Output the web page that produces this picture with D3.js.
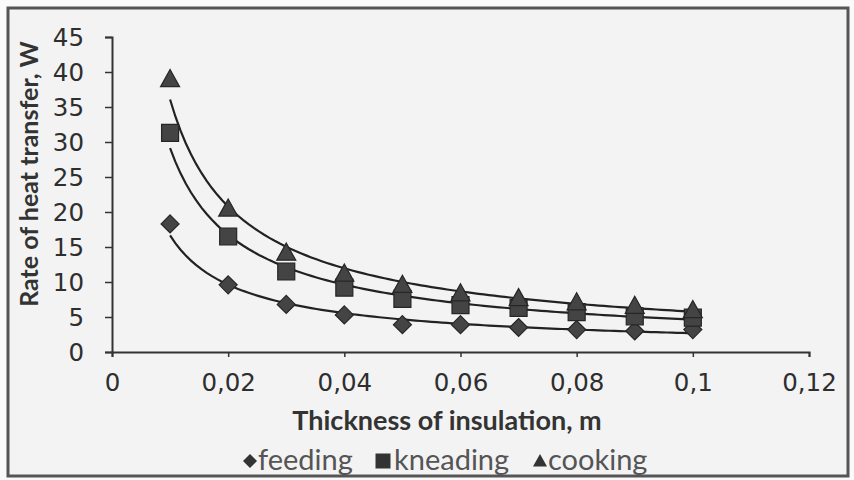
<!DOCTYPE html>
<html><head><meta charset="utf-8">
<script src="https://cdn.jsdelivr.net/npm/d3@7"></script>
<style>html,body{margin:0;padding:0;background:#fbfbfb;}svg{display:block;}</style>
</head><body>
<svg id="c" width="854" height="480"></svg>
<script>
const thickness = [0.01,0.02,0.03,0.04,0.05,0.06,0.07,0.08,0.09,0.1];
const feeding  = [18.3, 9.6, 6.8, 5.3, 3.9, 3.9, 3.5, 3.2, 3.0, 3.2];
const kneading = [31.3, 16.5, 11.5, 9.2, 7.6, 6.7, 6.3, 5.7, 5.1, 4.9];
const cooking  = [39.0, 20.5, 14.2, 11.2, 9.6, 8.4, 7.7, 7.1, 6.6, 6.0];
const seriesNames = ["feeding","kneading","cooking"];
const xTicks = [0,0.02,0.04,0.06,0.08,0.1,0.12];
const xTickLabels = ["0","0,02","0,04","0,06","0,08","0,1","0,12"];
const yTicks = [0,5,10,15,20,25,30,35,40,45];
const xTitle = "Thickness of insulation, m";
const yTitle = "Rate of heat transfer, W";

const svg = d3.select("#c");
// frame
svg.append("rect").attr("x",0).attr("y",0).attr("width",854).attr("height",480).attr("fill","#fafafa");
svg.append("rect").attr("x",8).attr("y",8).attr("width",840).attr("height",468)
  .attr("fill","#f3f3f3").attr("stroke","#555").attr("stroke-width",3);

const x = d3.scaleLinear().domain([0,0.12]).range([112,809]);
const y = d3.scaleLinear().domain([0,45]).range([352,37]);

const axisColor = "#333";
const gx = svg.append("g").attr("transform","translate(0,352)")
  .call(d3.axisBottom(x).tickValues(xTicks).tickFormat((d,i)=>xTickLabels[i]).tickSize(5).tickPadding(17));
const gy = svg.append("g").attr("transform","translate(112,0)")
  .call(d3.axisLeft(y).tickValues(yTicks).tickSize(7).tickPadding(21));
[gx,gy].forEach(g=>{
  g.select(".domain").attr("stroke",axisColor).attr("stroke-width",2);
  g.selectAll(".tick line").attr("stroke",axisColor).attr("stroke-width",1.5);
  g.selectAll(".tick text").attr("fill","#2e2e2e").attr("font-family","DejaVu Sans, sans-serif").attr("font-size",24.5);
});
gy.selectAll(".tick text").attr("dy","0.36em");

// titles
svg.append("text").attr("x",447).attr("y",430).attr("text-anchor","middle")
  .attr("font-family","Lato, sans-serif").attr("font-weight","bold").attr("font-size",27).attr("fill","#333").text(xTitle);
svg.append("text").attr("transform","translate(38,174) rotate(-90)").attr("text-anchor","middle")
  .attr("font-family","Lato, sans-serif").attr("font-weight","bold").attr("font-size",25).attr("fill","#333").text(yTitle);

// custom symbols
const symDiamond = {draw(ctx,size){const r=Math.sqrt(size)/2; ctx.moveTo(0,-r);ctx.lineTo(r,0);ctx.lineTo(0,r);ctx.lineTo(-r,0);ctx.closePath();}};
const symSquare = {draw(ctx,size){const r=Math.sqrt(size)/2; ctx.rect(-r,-r,2*r,2*r);}};
const symTri = {draw(ctx,size){const r=Math.sqrt(size)/2; ctx.moveTo(0,-r);ctx.lineTo(r,r*0.8);ctx.lineTo(-r,r*0.8);ctx.closePath();}};
const series = [
  {name:seriesNames[0], vals:feeding, sym:symDiamond, size:18*18},
  {name:seriesNames[1], vals:kneading, sym:symSquare, size:17*17},
  {name:seriesNames[2], vals:cooking, sym:symTri, size:19*19}
];

// power trendline fit y = a x^b
function powerFit(xs, ys){
  const lx = xs.map(Math.log), ly = ys.map(Math.log);
  const mx = d3.mean(lx), my = d3.mean(ly);
  const b = d3.sum(lx.map((v,i)=>(v-mx)*(ly[i]-my))) / d3.sum(lx.map(v=>(v-mx)*(v-mx)));
  const a = Math.exp(my - b*mx);
  return t => a*Math.pow(t,b);
}
const line = d3.line().x(d=>x(d[0])).y(d=>y(d[1]));
series.forEach(s=>{
  const f = powerFit(thickness, s.vals);
  const pts = d3.range(0,101).map(i=>{const t = 0.01 + i*(0.09/100); return [t,f(t)];});
  svg.append("path").attr("d",line(pts)).attr("fill","none").attr("stroke","#222").attr("stroke-width",2.2);
});
series.forEach(s=>{
  svg.append("g").selectAll("path").data(s.vals).join("path")
    .attr("transform",(d,i)=>`translate(${x(thickness[i])},${y(d)})`)
    .attr("d",d3.symbol().type(s.sym).size(s.size)())
    .attr("fill","#444").attr("stroke","#262626").attr("stroke-width",1.2);
});

// legend
const legMarkX = [250,383,540];
const legTextX = [258,394,548];
const leg = svg.append("g");
series.forEach((s,i)=>{
  leg.append("path").attr("transform",`translate(${legMarkX[i]},461)`)
    .attr("d",d3.symbol().type(s.sym).size(i===1?15*15:14*14)()).attr("fill","#333");
  leg.append("text").attr("x",legTextX[i]).attr("y",470).attr("font-family","Lato, sans-serif")
    .attr("font-size",29).attr("fill","#555").text(s.name);
});
</script>
</body></html>
